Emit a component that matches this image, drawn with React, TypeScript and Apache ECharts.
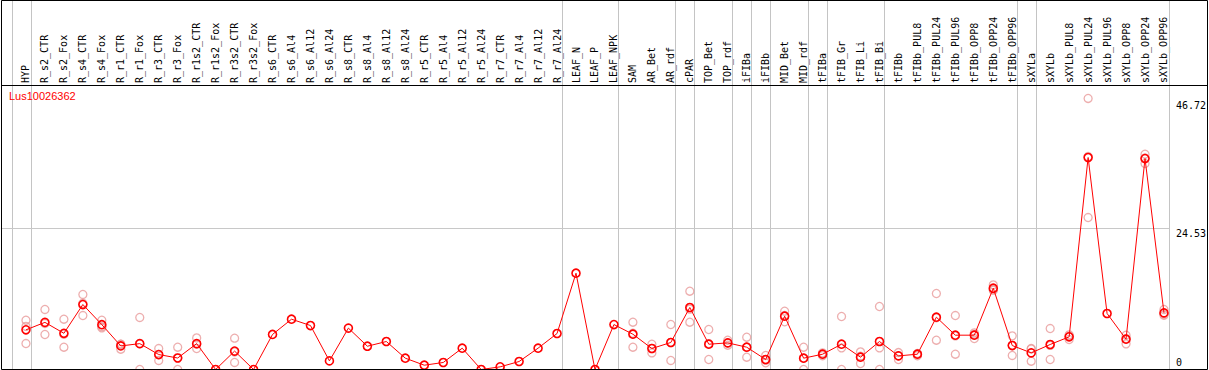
import React, { useEffect, useRef } from "react";
import * as echarts from "echarts";

const TITLE = "Lus10026362";

const CATEGORIES = [
  "HYP", "R_s2_CTR", "R_s2_Fox", "R_s4_CTR", "R_s4_Fox", "R_r1_CTR", "R_r1_Fox",
  "R_r3_CTR", "R_r3_Fox", "R_r1s2_CTR", "R_r1s2_Fox", "R_r3s2_CTR", "R_r3s2_Fox",
  "R_s6_CTR", "R_s6_Al4", "R_s6_Al12", "R_s6_Al24", "R_s8_CTR", "R_s8_Al4",
  "R_s8_Al12", "R_s8_Al24", "R_r5_CTR", "R_r5_Al4", "R_r5_Al12", "R_r5_Al24",
  "R_r7_CTR", "R_r7_Al4", "R_r7_Al12", "R_r7_Al24", "LEAF_N", "LEAF_P", "LEAF_NPK",
  "SAM", "AR_Bet", "AR_rdf", "cPAR", "TOP_Bet", "TOP_rdf", "iFIBa", "iFIBb",
  "MID_Bet", "MID_rdf", "tFIBa", "tFIB_Gr", "tFIB_Li", "tFIB_Bi", "tFIBb",
  "tFIBb_PUL8", "tFIBb_PUL24", "tFIBb_PUL96", "tFIBb_OPP8", "tFIBb_OPP24",
  "tFIBb_OPP96", "sXYLa", "sXYLb", "sXYLb_PUL8", "sXYLb_PUL24", "sXYLb_PUL96",
  "sXYLb_OPP8", "sXYLb_OPP24", "sXYLb_OPP96",
];

const MEANS = [
  6.9, 8.2, 6.3, 11.3, 7.8, 4.1, 4.5, 2.6, 2.0, 4.5,
  0, 3.2, 0, 6.1, 8.75, 7.65, 1.5, 7.2, 4.05, 4.87,
  1.97, 0.75, 1.22, 3.71, 0, 0.46, 1.39, 3.71, 6.26, 16.75,
  0, 7.82, 6.14, 3.65, 4.7, 10.79, 4.4, 4.63, 3.88, 1.74,
  9.27, 1.97, 2.66, 4.4, 2.14, 4.87, 2.37, 2.66, 9.1, 5.97,
  5.97, 14.14, 4.17, 2.89, 4.35, 5.68, 36.88, 9.74, 5.27, 36.7,
  9.85,
];

const REPLICATES: number[][] = [
  [8.58, 7.5, 4.52], [10.44, 8.0, 6.09], [8.75, 6.15, 3.88], [13.05, 11.5, 9.39],
  [8.58, 7.46, 7.24], [4.4, 4.4, 3.53], [9.05, 4.5, 0], [3.65, 2.6, 1.57],
  [3.88, 2.03, 0], [5.5, 4.4, 3.65], [], [5.45, 3.05, 1.22], [],
  [], [], [], [], [], [], [], [], [], [], [], [], [], [], [], [], [], [], [],
  [8.23, 6.3, 3.88], [4.4, 3.66, 2.89], [7.83, 4.7, 1.57], [13.62, 10.5, 8.23],
  [6.96, 4.5, 1.74], [5.1, 4.6, 4.23], [5.62, 3.88, 2.14], [2.44, 1.6, 1.16],
  [10.14, 9.4, 8.29], [3.88, 2.0, 0], [2.9, 2.7, 2.4], [9.22, 3.76, 0],
  [3.07, 2.3, 1.04], [10.96, 3.76, 0], [2.95, 2.4, 1.74], [2.8, 2.7, 2.4],
  [13.22, 9.0, 5.1], [9.39, 5.85, 2.66], [6.37, 6.1, 5.39], [14.72, 13.9, 13.8],
  [5.85, 4.2, 2.44], [3.65, 3.58, 1.44], [7.13, 4.2, 1.74], [6.03, 5.8, 5.22],
  [47.15, 37.05, 26.44], [], [5.97, 5.38, 4.46], [37.46, 36.8, 35.84],
  [10.44, 9.66, 9.45],
];

// group separators are drawn just after these category indices
const SEPARATORS_AFTER = [-1, 0, 28, 31, 34, 35, 37, 38, 39, 41, 42, 45, 52, 53, 60];
const GRID_VALUE = 24.53;
const Y_TICKS_UPPER = [24.53, 46.72];
const Y_TICKS_ZERO = [0];

const MONO = "DejaVu Sans Mono";

export default function App() {
  const ref = useRef<HTMLDivElement>(null);

  useEffect(() => {
    document.body.style.margin = "0";
    if (!ref.current) return;
    const chart = echarts.init(ref.current, undefined, { renderer: "svg" });

    const lastIdx = CATEGORIES.length - 1;
    const meanData = MEANS.map((v, i) => [i, v]);
    const repData: number[][] = [];
    REPLICATES.forEach((arr, i) => arr.forEach((v) => repData.push([i, v])));
    const sepData = SEPARATORS_AFTER.map((i) => [i + 0.24, 0]);

    const yCommon = {
      type: "value",
      position: "right",
      min: 0,
      max: 49.32,
      axisLine: { show: false },
      axisTick: { show: false },
      splitLine: { show: false },
    };

    const option: any = {
      animation: false,
      title: {
        text: TITLE,
        left: 9,
        top: 90,
        padding: 0,
        textStyle: { color: "#ff0000", fontSize: 11, fontWeight: "normal", fontFamily: "Liberation Sans" },
      },
      grid: { left: 7, right: 1, top: 86, bottom: 0.5 },
      xAxis: {
        type: "value",
        position: "top",
        min: -1,
        max: 62.21,
        interval: 1,
        axisLine: { show: false },
        axisTick: { show: false },
        splitLine: { show: false },
        axisLabel: {
          rotate: 90,
          margin: 3,
          color: "#000",
          fontFamily: MONO,
          fontSize: 10,
          formatter: (v: number) => {
            const k = Math.round(v);
            return k >= 0 && k <= lastIdx ? CATEGORIES[k] : "";
          },
        },
      },
      yAxis: [
        {
          ...yCommon,
          axisLabel: {
            customValues: Y_TICKS_UPPER,
            inside: true,
            align: "left",
            verticalAlign: "top",
            margin: 30,
            color: "#000",
            fontFamily: MONO,
            fontSize: 10,
          },
        },
        {
          ...yCommon,
          axisLabel: {
            customValues: Y_TICKS_ZERO,
            inside: true,
            align: "left",
            verticalAlign: "bottom",
            margin: 30,
            padding: [0, 0, 2, 0],
            color: "#000",
            fontFamily: MONO,
            fontSize: 10,
          },
        },
      ],
      series: [
        {
          type: "custom",
          clip: false,
          silent: true,
          z: 1,
          data: sepData,
          renderItem: (params: any, api: any) => {
            const p = api.coord([api.value(0), 0]);
            const x = Math.round(p[0]) + 0.5;
            return {
              type: "line",
              shape: { x1: x, y1: 0, x2: x, y2: 370 },
              style: { stroke: "#c4c4c4", lineWidth: 1 },
            };
          },
        },
        {
          type: "custom",
          clip: false,
          silent: true,
          z: 1,
          data: [[-1.32, GRID_VALUE]],
          renderItem: (params: any, api: any) => {
            const p1 = api.coord([api.value(0), api.value(1)]);
            const p2 = api.coord([lastIdx + 0.24, api.value(1)]);
            const y = Math.round(p1[1]) + 0.5;
            return {
              type: "line",
              shape: { x1: p1[0], y1: y, x2: Math.round(p2[0]) + 0.5, y2: y },
              style: { stroke: "#c8c8c8", lineWidth: 1 },
            };
          },
        },
        {
          type: "scatter",
          data: repData,
          symbol: "circle",
          symbolSize: 8,
          z: 2,
          itemStyle: { color: "rgba(0,0,0,0)", borderColor: "#e89a9a", borderWidth: 1.3 },
        },
        {
          type: "line",
          data: meanData,
          symbol: "circle",
          symbolSize: 8,
          z: 3,
          lineStyle: { color: "#ff0000", width: 1 },
          itemStyle: { color: "rgba(0,0,0,0)", borderColor: "#ff0000", borderWidth: 1.6 },
        },
      ],
      graphic: [
        {
          type: "rect",
          silent: true,
          z: 100,
          shape: { x: 1.5, y: 0.5, width: 1206, height: 369 },
          style: { fill: "none", stroke: "#000", lineWidth: 1 },
        },
        {
          type: "line",
          silent: true,
          z: 100,
          shape: { x1: 1, y1: 85.5, x2: 1208, y2: 85.5 },
          style: { stroke: "#000", lineWidth: 1 },
        },
      ],
    };

    chart.setOption(option);
    return () => chart.dispose();
  }, []);

  return (
    <div
      ref={ref}
      style={{ position: "fixed", left: 0, top: 0, width: 1209, height: 370, background: "#fff" }}
    />
  );
}
